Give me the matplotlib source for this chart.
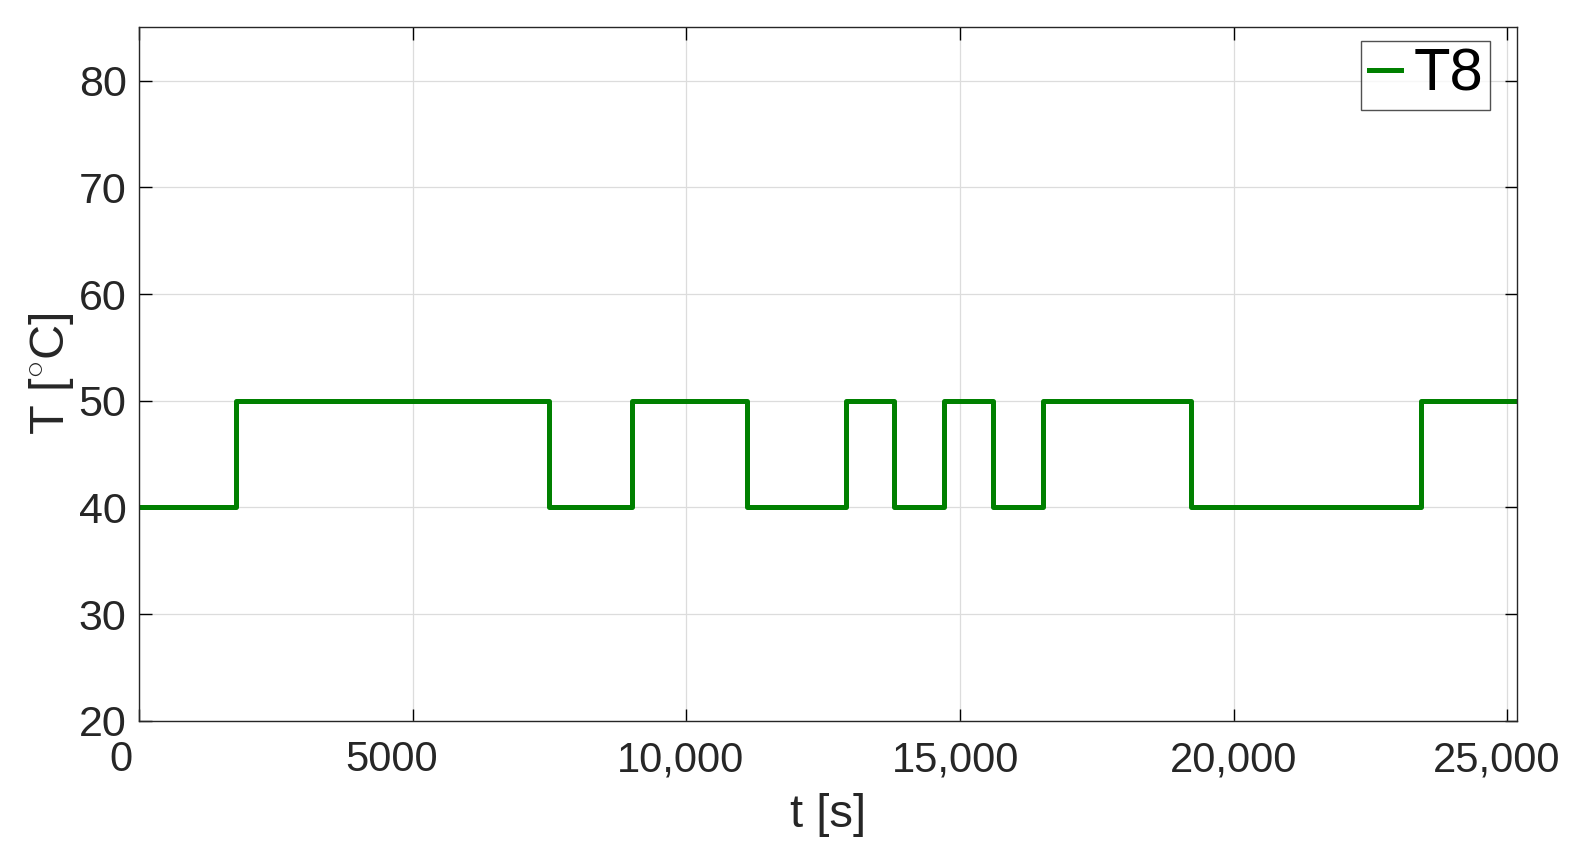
import matplotlib
matplotlib.use("Agg")
import matplotlib.pyplot as plt
import matplotlib.transforms as mtransforms
import numpy as np

# Step changes of T8 (time in s, temperature in °C)
t_switch = [0, 1780, 7490, 9000, 11110, 12910, 13790, 14700, 15600, 16510, 19210, 23420, 25180]
T_level = [40, 50, 40, 50, 40, 50, 40, 50, 40, 50, 40, 50, 50]
x_ticks = [0, 5000, 10000, 15000, 20000, 25000]
x_ticklabels = ["0", "5000", "10,000", "15,000", "20,000", "25,000"]
y_ticks = [20, 30, 40, 50, 60, 70, 80]

plt.rcParams['font.family'] = ['Liberation Sans', 'DejaVu Sans']
plt.rcParams['mathtext.fontset'] = 'custom'
plt.rcParams['mathtext.rm'] = 'Liberation Sans'
plt.rcParams['mathtext.it'] = 'Liberation Sans'

fig = plt.figure(figsize=(15.85, 8.55), dpi=100)
ax = fig.add_axes([0.0877, 0.157, 0.8696, 0.811])

ax.step(t_switch, T_level, where='post', color=(0, 0.5, 0), linewidth=3.6, label='T8')

ax.set_xlim(0, 25180)
ax.set_ylim(20, 85)
ax.set_xticks(x_ticks)
ax.set_xticklabels(x_ticklabels)
ax.set_yticks(y_ticks)

ax.grid(True, color='#dcdcdc', linewidth=0.9)
ax.set_axisbelow(True)
ax.tick_params(axis='both', direction='in', length=9, width=1.0,
               labelcolor='#262626', top=True, right=True)
ax.tick_params(axis='y', pad=9, labelsize=31)
ax.tick_params(axis='x', pad=14, labelsize=30)
for s in ax.spines.values():
    s.set_color('#262626')
    s.set_linewidth(1.0)

# small horizontal shifts of the x tick labels as in the reference (points)
x_label_shift = [-13, -15, -4, -3, 0, -8]
for lab, dx in zip(ax.get_xticklabels(), x_label_shift):
    lab.set_transform(lab.get_transform() +
                      mtransforms.ScaledTranslation(dx / 72, 0, fig.dpi_scale_trans))

ax.set_xlabel('t [s]', fontsize=34, color='#262626', labelpad=9)
ax.set_ylabel(r'T [$^{\circ}$C]', fontsize=35, color='#262626', labelpad=2)

leg = ax.legend(loc='upper right', bbox_to_anchor=(0.9804, 0.981), borderaxespad=0,
                fontsize=43, frameon=True, fancybox=False,
                edgecolor='#262626', handlelength=0.55, handletextpad=0.2,
                borderpad=0.12)
leg.get_frame().set_linewidth(1.0)

fig.savefig('out.png', dpi=100, facecolor='white')
